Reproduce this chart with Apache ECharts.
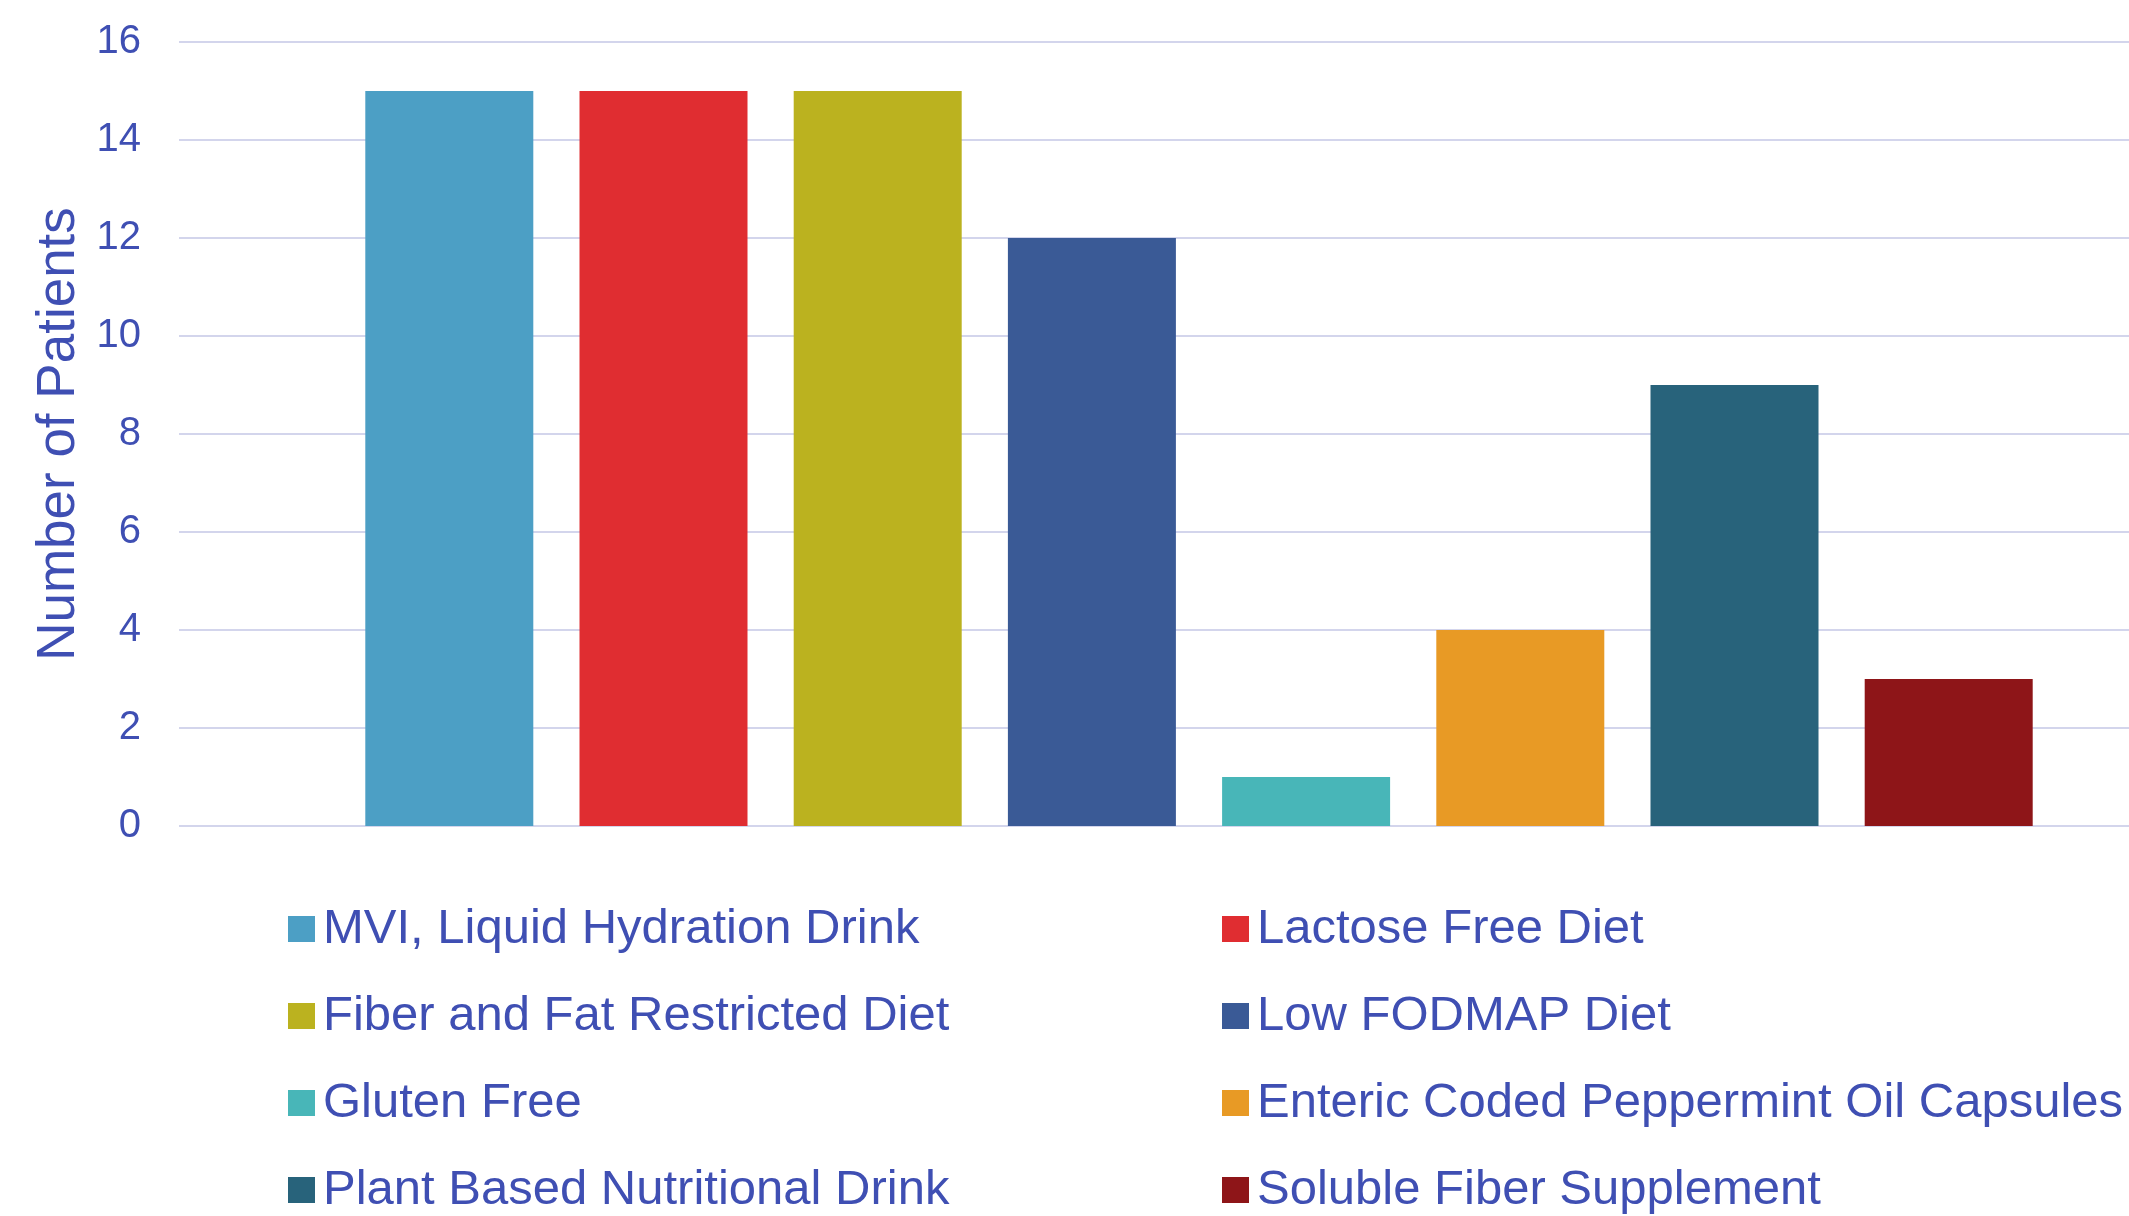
<!DOCTYPE html>
<html>
<head>
<meta charset="utf-8">
<script src="https://cdn.jsdelivr.net/npm/echarts@6/dist/echarts.min.js"></script>
<style>
html, body { margin: 0; padding: 0; background: #fff; }
#chart { width: 2129px; height: 1216px; }
</style>
</head>
<body>
<div id="chart"></div>
<script>
// data
var seriesNames = [
    'MVI, Liquid Hydration Drink',
    'Lactose Free Diet',
    'Fiber and Fat Restricted Diet',
    'Low FODMAP Diet',
    'Gluten Free',
    'Enteric Coded Peppermint Oil Capsules',
    'Plant Based Nutritional Drink',
    'Soluble Fiber Supplement'
];
var patientCounts = [15, 15, 15, 12, 1, 4, 9, 3];
var barColors = ['#4c9fc5', '#e02d31', '#bbb21f', '#3a5a96', '#48b6b8', '#e89a25', '#28637b', '#8e1518'];
var yTicks = { min: 0, max: 16, interval: 2 };

var textColor = '#3f4fb3';
var fontName = '"Liberation Sans", Arial, sans-serif';

var series = [];
for (var i = 0; i < seriesNames.length; i++) {
    series.push({
        name: seriesNames[i],
        type: 'bar',
        data: [patientCounts[i]],
        barWidth: 168,
        barGap: '27.5%',
        itemStyle: { color: barColors[i] },
        animation: false
    });
}

// legend in two columns
var leftCol = [], rightCol = [];
for (var i = 0; i < seriesNames.length; i++) {
    if (i % 2 === 0) leftCol.push(seriesNames[i]);
    else rightCol.push(seriesNames[i]);
}
function makeLegend(names, left) {
    return {
        data: names,
        orient: 'vertical',
        left: left,
        top: 898,
        height: 400,
        icon: 'rect',
        itemWidth: 27,
        itemHeight: 26,
        itemGap: 35,
        selectedMode: false,
        textStyle: {
            color: textColor,
            fontSize: 49,
            fontFamily: fontName,
            lineHeight: 52,
            padding: [0, 0, 0, 3]
        }
    };
}

var myChart = echarts.init(document.getElementById('chart'));
var option = {
    animation: false,
    grid: { left: 179, top: 42, width: 2040, height: 784, outerBoundsMode: 'none' },
    xAxis: {
        type: 'category',
        data: [''],
        axisLine: { show: false },
        axisTick: { show: false },
        axisLabel: { show: false }
    },
    yAxis: {
        type: 'value',
        min: yTicks.min,
        max: yTicks.max,
        interval: yTicks.interval,
        name: 'Number of Patients',
        nameLocation: 'middle',
        nameGap: 88,
        nameRotate: 90,
        nameTextStyle: { color: textColor, fontSize: 53, fontFamily: fontName },
        axisLine: { show: false },
        axisTick: { show: false },
        axisLabel: { color: textColor, fontSize: 40, fontFamily: fontName, margin: 38, padding: [8, 0, 0, 0] },
        splitLine: { lineStyle: { color: '#d3d5ec', width: 2 } }
    },
    legend: [makeLegend(leftCol, 283), makeLegend(rightCol, 1217)],
    series: series
};
myChart.setOption(option);
</script>
</body>
</html>
